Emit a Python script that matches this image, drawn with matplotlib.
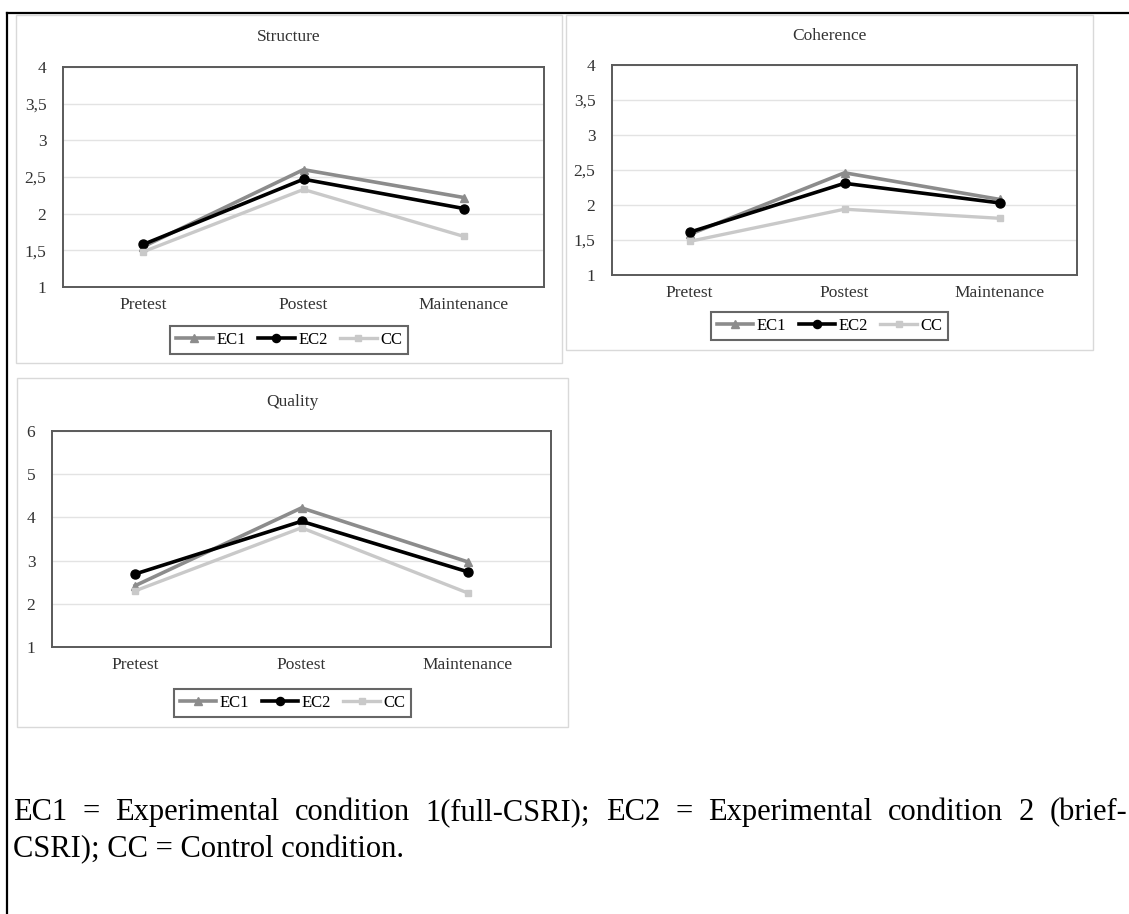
import matplotlib
matplotlib.use("Agg")
import matplotlib.pyplot as plt
from matplotlib.patches import Rectangle
from matplotlib.lines import Line2D
from matplotlib.ticker import FuncFormatter

plt.rcParams['font.family'] = ['Liberation Serif', 'DejaVu Serif']

# datos
phases = ["Pretest", "Postest", "Maintenance"]
groups = ["EC1", "EC2", "CC"]

structure_ec1 = [1.55, 2.60, 2.22]
structure_ec2 = [1.58, 2.47, 2.07]
structure_cc = [1.48, 2.33, 1.69]

coherence_ec1 = [1.58, 2.46, 2.08]
coherence_ec2 = [1.61, 2.31, 2.03]
coherence_cc = [1.48, 1.94, 1.81]

quality_ec1 = [2.42, 4.22, 2.97]
quality_ec2 = [2.69, 3.91, 2.74]
quality_cc = [2.30, 3.76, 2.25]

ticks_4 = [1, 1.5, 2, 2.5, 3, 3.5, 4]
ticks_6 = [1, 2, 3, 4, 5, 6]

caption_1 = "EC1 = Experimental condition 1(full-CSRI); EC2 = Experimental condition 2 (brief-"
caption_2 = "CSRI); CC = Control condition."

W, H = 1129, 914
fig = plt.figure(figsize=(W / 100, H / 100), dpi=100)


def box(x0, y0, x1, y1):
    # pixeles (origen arriba-izq) -> fraccion de figura
    return [x0 / W, 1 - y1 / H, (x1 - x0) / W, (y1 - y0) / H]


styles = {
    "EC1": dict(color="#8c8c8c", marker="^", markersize=6, lw=2.6),
    "EC2": dict(color="black", marker="o", markersize=6.5, lw=2.6),
    "CC": dict(color="#c9c9c9", marker="s", markersize=5, lw=2.4),
}

comma = FuncFormatter(lambda v, p: (f"{v:g}").replace(".", ","))
FS = 12.5
CAP_FS = 22


def chart(frame, plot, title, title_y, leg_y, series, ticks):
    fx0, fy0, fx1, fy1 = frame
    fig.add_artist(Rectangle((fx0 / W, 1 - fy1 / H), (fx1 - fx0) / W, (fy1 - fy0) / H,
                             transform=fig.transFigure, facecolor="white",
                             edgecolor="#d9d9d9", lw=1.0, zorder=0))
    ax = fig.add_axes(box(*plot))
    for name, vals in zip(groups, series):
        ax.plot(range(len(phases)), vals, label=name, **styles[name])
    ax.set_xlim(-0.5, 2.5)
    ax.set_ylim(ticks[0], ticks[-1])
    ax.set_yticks(ticks)
    ax.yaxis.set_major_formatter(comma)
    ax.set_xticks(range(len(phases)))
    ax.set_xticklabels(phases)
    ax.grid(axis="y", color="#e3e3e3", lw=1.0)
    ax.set_axisbelow(True)
    for s in ax.spines.values():
        s.set_color("#5a5a5a")
        s.set_linewidth(1.4)
    ax.tick_params(length=0, labelsize=FS, labelcolor="#333333")
    ax.tick_params(axis="y", pad=12)
    ax.tick_params(axis="x", pad=7)
    cx = (fx0 + fx1) / 2
    fig.text(cx / W, 1 - title_y / H, title, ha="center", va="center",
             fontsize=FS, color="#333333")
    ax.legend(loc="center", bbox_to_anchor=(cx / W, 1 - leg_y / H),
              bbox_transform=fig.transFigure, ncol=3, fontsize=12,
              frameon=True, fancybox=False, edgecolor="#404040",
              handlelength=2.2, handletextpad=0.2, columnspacing=0.75,
              borderpad=0.35, markerscale=0.9)
    ax.get_legend().get_frame().set_linewidth(1.5)
    return ax


chart((16, 15, 562, 363), (63, 67, 544, 287), "Structure", 37, 340,
      [structure_ec1, structure_ec2, structure_cc], ticks_4)
chart((566, 15, 1093, 350), (612, 65, 1077, 275), "Coherence", 36, 326,
      [coherence_ec1, coherence_ec2, coherence_cc], ticks_4)
chart((17, 378, 568, 727), (52, 431, 551, 647), "Quality", 402, 703,
      [quality_ec1, quality_ec2, quality_cc], ticks_6)

# borde de la celda de la tabla
fig.add_artist(Line2D([7 / W, 1], [1 - 13 / H, 1 - 13 / H], transform=fig.transFigure,
                      color="black", lw=1.6))
fig.add_artist(Line2D([7 / W, 7 / W], [1 - 13 / H, 0], transform=fig.transFigure,
                      color="black", lw=1.6))

# nota al pie: primera linea justificada
renderer = fig.canvas.get_renderer()
words = caption_1.split(" ")
x_left, x_right = 13, 1127
items = []
for w in words:
    t = fig.text(0, 1 - 820 / H, w, ha="left", va="baseline", fontsize=CAP_FS)
    items.append((t, t.get_window_extent(renderer).width))
gap = (x_right - x_left - sum(wd for _, wd in items)) / (len(items) - 1)
x = x_left
for t, wd in items:
    t.set_x(x / W)
    x += wd + gap

fig.text(13 / W, 1 - 857 / H, caption_2, ha="left", va="baseline", fontsize=CAP_FS)

fig.savefig("out.png", dpi=100, facecolor="white")
